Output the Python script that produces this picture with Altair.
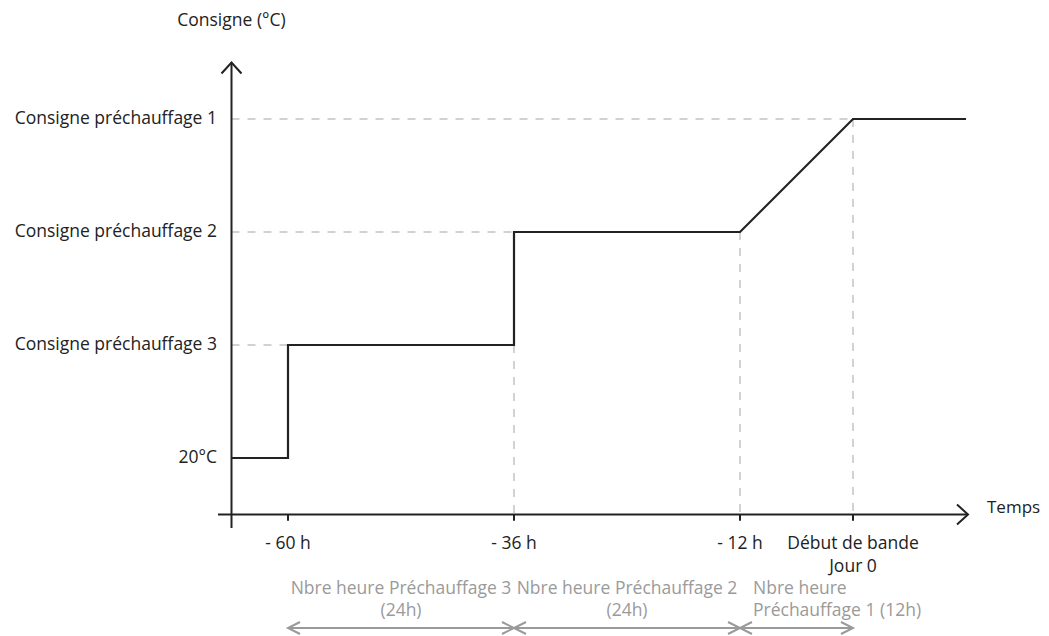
import altair as alt
import pandas as pd

# ---------------- data ----------------
level_labels = ["20°C", "Consigne préchauffage 3", "Consigne préchauffage 2", "Consigne préchauffage 1"]
level_values = [0, 1, 2, 3]

setpoint_hours = [-66, -60, -60, -36, -36, -12, 0, 12]
setpoint_levels = [0, 0, 1, 1, 2, 2, 3, 3]

tick_hours = [-60, -36, -12, 0]
tick_labels = ["- 60 h", "- 36 h", "- 12 h", "Début de bande"]
tick_sublabels = ["", "", "", "Jour 0"]

hguide_end_hours = [-60, -36, 0]
hguide_levels = [1, 2, 3]
vguide_hours = [-36, -12, 0]
vguide_levels = [1, 2, 3]

span_start = [-60, -36, -12]
span_end = [-36, -12, 0]
span_line1 = ["Nbre heure Préchauffage 3", "Nbre heure Préchauffage 2", "Nbre heure"]
span_line2 = ["(24h)", "(24h)", "Préchauffage 1 (12h)"]

y_title = "Consigne (°C)"
x_title = "Temps"

# ---------------- layout ----------------
W = 1033
H = 628
PXH = 226 / 24.0
XMIN = -845 / PXH
XMAX = XMIN + W / PXH
YMAX = 450 / 113.0
YMIN = YMAX - H / 113.0
AX_X = -66          # hour where the vertical axis sits
AX_Y = -0.5         # level where the horizontal axis sits
FONT = "Open Sans"
FS = 17.5
BLACK = "#222222"
GRAY = "#9a9a9a"
DASH = "#c4c4c4"

xs = alt.Scale(domain=[XMIN, XMAX])
ys = alt.Scale(domain=[YMIN, YMAX])


def X(f="x"):
    return alt.X(f"{f}:Q", scale=xs, axis=None)


def Y(f="y"):
    return alt.Y(f"{f}:Q", scale=ys, axis=None)


def hx(px):
    return (px - 853) / PXH


def ly(py):
    return (458 - py) / 113.0


# dashed guides
hg = pd.DataFrame({"x": [AX_X] * 3, "x2": hguide_end_hours, "y": hguide_levels})
vg = pd.DataFrame({"x": vguide_hours, "y": vguide_levels, "y2": [AX_Y] * 3})
hguides = alt.Chart(hg).mark_rule(color=DASH, strokeWidth=1.5, strokeDash=[8, 8]).encode(
    x=X(), x2="x2:Q", y=Y())
vguides = alt.Chart(vg).mark_rule(color=DASH, strokeWidth=1.5, strokeDash=[8, 8]).encode(
    x=X(), y=Y(), y2="y2:Q")

# axes
axes_df = pd.DataFrame({"x": [hx(218), AX_X],
                        "x2": [hx(967), AX_X],
                        "y": [AX_Y, AX_Y - 0.12],
                        "y2": [AX_Y, 3.5]})
axes = alt.Chart(axes_df).mark_rule(color=BLACK, strokeWidth=2).encode(
    x=X(), x2="x2:Q", y=Y(), y2="y2:Q")

ticks_df = pd.DataFrame({"x": tick_hours, "y": [AX_Y] * 4, "y2": [AX_Y - 0.055] * 4})
ticks = alt.Chart(ticks_df).mark_rule(color=BLACK, strokeWidth=2).encode(
    x=X(), y=Y(), y2="y2:Q")

up_arrow = alt.Chart(pd.DataFrame({"x": [AX_X], "y": [3.5]})).mark_point(
    shape="M-1,1.1L0,0L1,1.1", size=400, filled=False, color=BLACK, strokeWidth=2, opacity=1
).encode(x=X(), y=Y())
right_arrow = alt.Chart(pd.DataFrame({"x": [hx(968)], "y": [AX_Y]})).mark_point(
    shape="M-1.1,-1L0,0L-1.1,1", size=400, filled=False, color=BLACK, strokeWidth=2, opacity=1
).encode(x=X(), y=Y())

# setpoint curve
sp = pd.DataFrame({"x": setpoint_hours, "y": setpoint_levels, "i": range(len(setpoint_hours))})
curve = alt.Chart(sp).mark_line(color=BLACK, strokeWidth=2.2, strokeJoin="miter").encode(
    x=X(), y=Y(), order="i:Q")

# span arrows
SPAN_Y = ly(628)
sp_df = pd.DataFrame({"x": span_start, "x2": span_end, "y": [SPAN_Y] * 3})
span_rules = alt.Chart(sp_df).mark_rule(color=GRAY, strokeWidth=2).encode(
    x=X(), x2="x2:Q", y=Y())
left_heads = alt.Chart(pd.DataFrame({"x": span_start, "y": [SPAN_Y] * 3})).mark_point(
    shape="M2,-1L0,0L2,1", size=144, filled=False, color=GRAY, strokeWidth=2, opacity=1
).encode(x=X(), y=Y())
right_heads = alt.Chart(pd.DataFrame({"x": span_end, "y": [SPAN_Y] * 3})).mark_point(
    shape="M-2,-1L0,0L-2,1", size=144, filled=False, color=GRAY, strokeWidth=2, opacity=1
).encode(x=X(), y=Y())


# texts
def txt(df, align, color, fs=FS):
    return alt.Chart(df).mark_text(align=align, baseline="middle", font=FONT, fontSize=fs,
                                   color=color).encode(x=X(), y=Y(), text="t:N")


ylab = txt(pd.DataFrame({"x": [hx(217)] * 4, "y": level_values, "t": level_labels}),
           "right", BLACK)
ytitle = txt(pd.DataFrame({"x": [AX_X], "y": [ly(21)], "t": [y_title]}), "center", BLACK)
xtitle = txt(pd.DataFrame({"x": [hx(987)], "y": [ly(508)], "t": [x_title]}), "left", BLACK, 17)
tl = pd.DataFrame({"x": tick_hours + tick_hours,
                   "y": [ly(544)] * 4 + [ly(567)] * 4,
                   "t": tick_labels + tick_sublabels})
tlab = txt(tl, "center", BLACK)

L1 = ly(589)
L2 = ly(611)
mid = [(a + b) / 2 for a, b in zip(span_start, span_end)]
sc = pd.DataFrame({"x": mid[:2] * 2, "y": [L1, L1, L2, L2],
                   "t": span_line1[:2] + span_line2[:2]})
sl = pd.DataFrame({"x": [span_start[2] + 13 / PXH] * 2, "y": [L1, L2],
                   "t": [span_line1[2], span_line2[2]]})
span_c = txt(sc, "center", GRAY)
span_l = txt(sl, "left", GRAY)

chart = alt.layer(
    hguides, vguides, axes, ticks, up_arrow, right_arrow, curve,
    span_rules, left_heads, right_heads,
    ylab, ytitle, xtitle, tlab, span_c, span_l
).properties(
    width=W, height=H, autosize="none", padding=0
).configure_view(stroke=None)

chart.save("out.html", embed_options={"renderer": "svg", "actions": False})
